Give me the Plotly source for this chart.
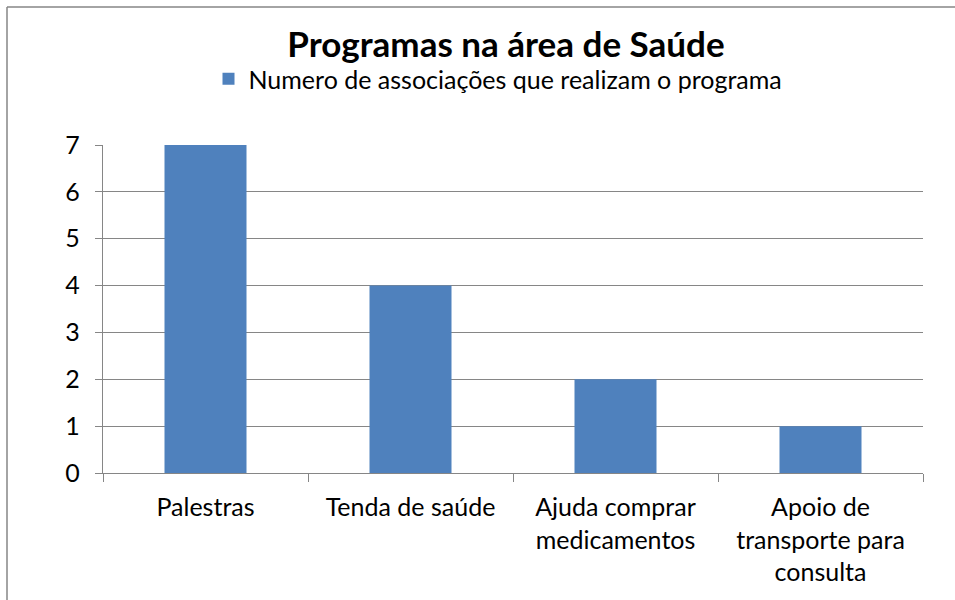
import plotly.graph_objects as go

categories = ["Palestras", "Tenda de saúde", "Ajuda comprar<br>medicamentos",
              "Apoio de<br>transporte para<br>consulta"]
values = [7, 4, 2, 1]
series_name = "Numero de associações que realizam o programa"
y_ticks = [0, 1, 2, 3, 4, 5, 6, 7]

W, H = 955, 600
L, R, T, B = 103, 32, 145, 127
pw, ph = W - L - R, H - T - B

def px_x(p):
    return (p - L) / pw

def px_y(p):
    return (H - B - p) / ph

fig = go.Figure()
fig.add_trace(go.Bar(x=categories, y=values, name=series_name,
                     marker=dict(color="#4F81BD", line=dict(width=0))))

grid = "#868686"
fig.update_layout(
    width=W, height=H,
    margin=dict(l=L, r=R, t=T, b=B),
    paper_bgcolor="white", plot_bgcolor="white",
    font=dict(family="Lato, Carlito, sans-serif", size=25, color="black"),
    bargap=0.6,
    showlegend=True,
    title=dict(text="<b>Programas na área de Saúde</b>", font=dict(size=35),
               xref="container", yref="container", x=506 / W, xanchor="center",
               y=1 - 45 / H, yanchor="middle"),
    legend=dict(orientation="h", xref="container", yref="container",
                x=498 / W, xanchor="center", y=1 - 79 / H, yanchor="middle",
                font=dict(size=25), itemwidth=30),
    xaxis=dict(type="category", showline=True, linecolor=grid, linewidth=1.3,
               ticks="outside", ticklen=8, tickcolor=grid, tickwidth=1.3,
               tickson="boundaries", showgrid=False, ticklabelstandoff=12),
    yaxis=dict(range=[0, 7], tickvals=y_ticks, showline=True, linecolor=grid,
               linewidth=1.3, ticks="outside", ticklen=7, tickcolor=grid,
               tickwidth=1.3, showgrid=True, gridcolor=grid, gridwidth=1.3,
               zeroline=False, ticklabelstandoff=10),
    shapes=[
        dict(type="line", xref="paper", yref="paper", x0=px_x(7), x1=px_x(W + 5),
             y0=px_y(7), y1=px_y(7), line=dict(color="#868686", width=1.5)),
        dict(type="line", xref="paper", yref="paper", x0=px_x(7), x1=px_x(7),
             y0=px_y(7), y1=px_y(H + 5), line=dict(color="#868686", width=1.5)),
    ],
)
fig.write_html("out.html", config={"displayModeBar": False},
               post_script="document.body.style.margin='0';")
